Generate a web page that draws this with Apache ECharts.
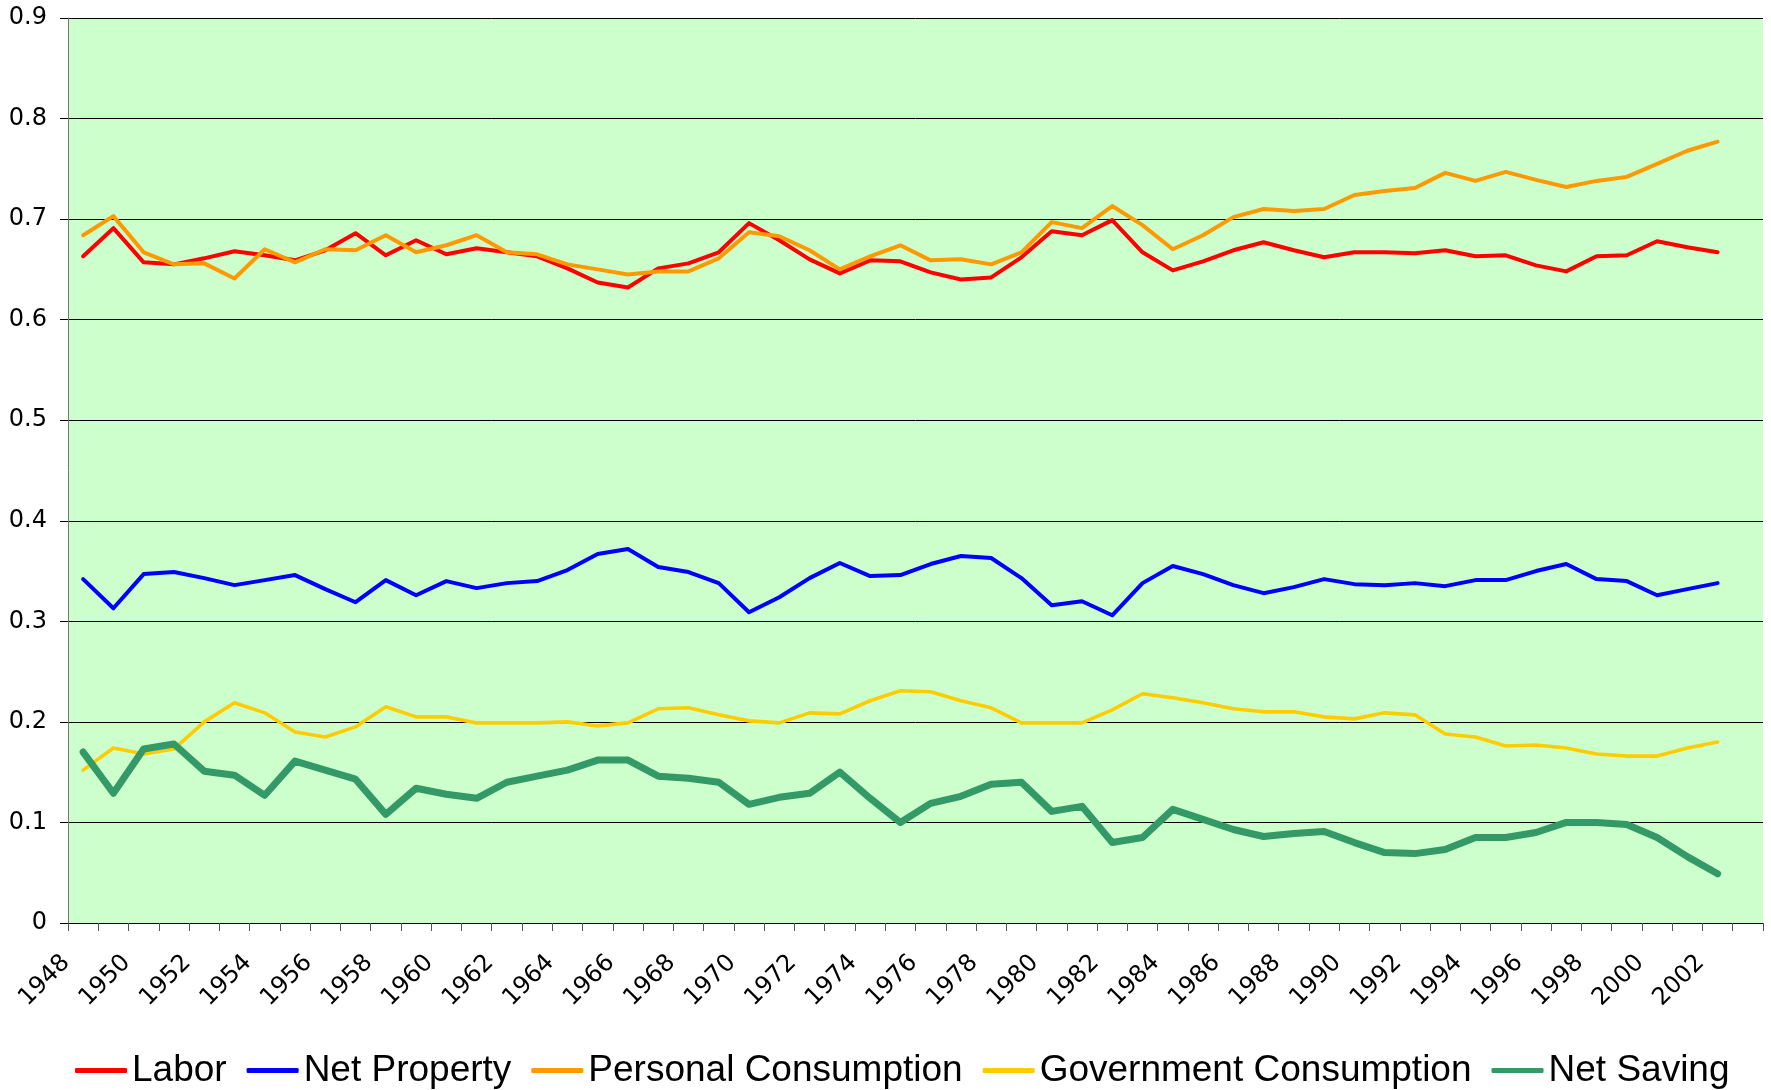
<!DOCTYPE html>
<html>
<head>
<meta charset="utf-8">
<title>Shares</title>
<script src="https://cdn.jsdelivr.net/npm/echarts@6/dist/echarts.min.js"></script>
<style>
  html, body { margin: 0; padding: 0; background: #fff; }
  #chart { width: 1771px; height: 1090px; }
</style>
</head>
<body>
<div id="chart"></div>
<script>
// one category per year, 1948..2003 (last year has no data)
const years = []
for (let y = 1948; y <= 2003; y++) years.push(String(y))

const labor = [0.663, 0.691, 0.657, 0.655, 0.661, 0.668, 0.664, 0.659, 0.669, 0.686, 0.664, 0.679, 0.665, 0.671, 0.667, 0.663, 0.651, 0.637, 0.632, 0.651, 0.656, 0.667, 0.696, 0.679, 0.660, 0.646, 0.659, 0.658, 0.647, 0.640, 0.642, 0.662, 0.688, 0.684, 0.699, 0.667, 0.649, 0.658, 0.669, 0.677, 0.669, 0.662, 0.667, 0.667, 0.666, 0.669, 0.663, 0.664, 0.654, 0.648, 0.663, 0.664, 0.678, 0.672, 0.667]
const netProperty = [0.342, 0.313, 0.347, 0.349, 0.343, 0.336, 0.341, 0.346, 0.332, 0.319, 0.341, 0.326, 0.340, 0.333, 0.338, 0.340, 0.351, 0.367, 0.372, 0.354, 0.349, 0.338, 0.309, 0.324, 0.343, 0.358, 0.345, 0.346, 0.357, 0.365, 0.363, 0.343, 0.316, 0.320, 0.306, 0.338, 0.355, 0.347, 0.336, 0.328, 0.334, 0.342, 0.337, 0.336, 0.338, 0.335, 0.341, 0.341, 0.350, 0.357, 0.342, 0.340, 0.326, 0.332, 0.338]
const personalCons = [0.684, 0.703, 0.667, 0.655, 0.656, 0.641, 0.670, 0.657, 0.670, 0.669, 0.684, 0.667, 0.674, 0.684, 0.667, 0.665, 0.655, 0.650, 0.645, 0.648, 0.648, 0.661, 0.687, 0.683, 0.669, 0.650, 0.663, 0.674, 0.659, 0.660, 0.655, 0.667, 0.697, 0.691, 0.713, 0.694, 0.670, 0.684, 0.702, 0.710, 0.708, 0.710, 0.724, 0.728, 0.731, 0.746, 0.738, 0.747, 0.739, 0.732, 0.738, 0.742, 0.755, 0.768, 0.777]
const govCons = [0.152, 0.174, 0.168, 0.173, 0.200, 0.219, 0.209, 0.190, 0.185, 0.195, 0.215, 0.205, 0.205, 0.199, 0.199, 0.199, 0.200, 0.196, 0.199, 0.213, 0.214, 0.207, 0.201, 0.199, 0.209, 0.208, 0.221, 0.231, 0.230, 0.221, 0.214, 0.199, 0.199, 0.199, 0.212, 0.228, 0.224, 0.219, 0.213, 0.210, 0.210, 0.205, 0.203, 0.209, 0.207, 0.188, 0.185, 0.176, 0.177, 0.174, 0.168, 0.166, 0.166, 0.174, 0.180]
const netSaving = [0.170, 0.129, 0.173, 0.178, 0.151, 0.147, 0.127, 0.161, 0.152, 0.143, 0.108, 0.134, 0.128, 0.124, 0.140, 0.146, 0.152, 0.162, 0.162, 0.146, 0.144, 0.140, 0.118, 0.125, 0.129, 0.150, 0.124, 0.100, 0.119, 0.126, 0.138, 0.140, 0.111, 0.116, 0.080, 0.085, 0.113, 0.103, 0.093, 0.086, 0.089, 0.091, 0.080, 0.070, 0.069, 0.073, 0.085, 0.085, 0.090, 0.100, 0.100, 0.098, 0.085, 0.066, 0.049]

const font = '"Liberation Sans", Arial, sans-serif'
// tick labels in the picture are wider than Arial
const tickFont = '"DejaVu Sans", sans-serif'

const chart = echarts.init(document.getElementById('chart'))

const makeLine = (name, data, color, width) => ({
  name: name,
  type: 'line',
  data: data,
  symbol: 'none',
  animation: false,
  lineStyle: { color: color, width: width, cap: 'round', join: 'round' },
  itemStyle: { color: color }
})

const option = {
  backgroundColor: '#ffffff',
  textStyle: { fontFamily: font },
  grid: {
    show: true,
    left: 68,
    top: 18,
    right: 8,
    bottom: 167,
    containLabel: false,
    outerBoundsMode: 'none',
    backgroundColor: '#ccffcc',
    borderWidth: 0
  },
  legend: {
    left: 70,
    top: 1047,
    itemWidth: 52,
    itemHeight: 5,
    itemGap: 20,
    icon: 'roundRect',
    textStyle: {
      color: '#000',
      fontFamily: font,
      fontSize: 37
    },
    data: ['Labor', 'Net Property', 'Personal Consumption', 'Government Consumption', 'Net Saving']
  },
  xAxis: {
    type: 'category',
    data: years,
    boundaryGap: true,
    axisLine: { lineStyle: { color: '#000', width: 1 } },
    axisTick: { show: true, interval: 0, length: 8, lineStyle: { color: '#555' } },
    axisLabel: {
      interval: 1,
      rotate: 45,
      margin: 19,
      padding: [0, 24, 0, 0],
      color: '#000',
      fontFamily: tickFont,
      fontSize: 24
    },
    splitLine: { show: false }
  },
  yAxis: {
    type: 'value',
    min: 0,
    max: 0.9,
    interval: 0.1,
    axisLine: { show: true, lineStyle: { color: '#777', width: 1 } },
    axisTick: { show: true, length: 8, lineStyle: { color: '#000' } },
    axisLabel: {
      margin: 21,
      color: '#000',
      fontFamily: tickFont,
      fontSize: 24
    },
    splitLine: { show: true, lineStyle: { color: '#000', width: 1 } }
  },
  series: [
    makeLine('Labor', labor, '#ff0000', 4),
    makeLine('Net Property', netProperty, '#0000ff', 4),
    makeLine('Personal Consumption', personalCons, '#ff9900', 4),
    makeLine('Government Consumption', govCons, '#ffcc00', 3.6),
    makeLine('Net Saving', netSaving, '#339966', 7)
  ]
}

chart.setOption(option, true)
</script>
</body>
</html>
